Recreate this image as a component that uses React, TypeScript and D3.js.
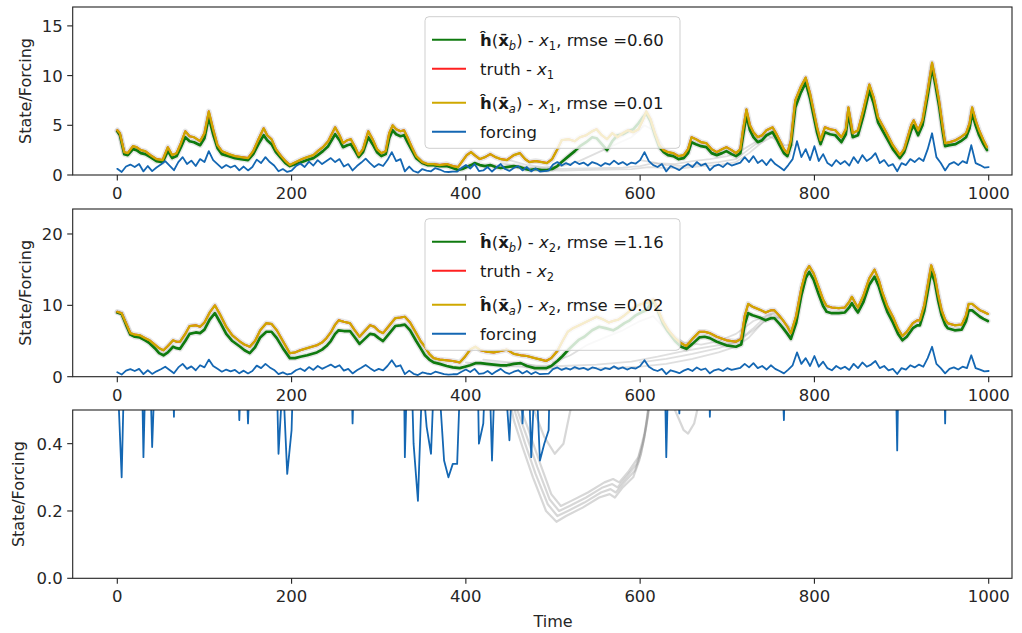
import React from 'react';
import * as d3 from 'd3';

type P = [number, number];

const X_TICKS = [0, 200, 400, 600, 800, 1000];
const Y_TICKS_1 = [0, 5, 10, 15];
const Y_TICKS_2 = [0, 10, 20];
const Y_TICKS_3 = [0.0, 0.2, 0.4];

const FORCING_STEP = 5;
const forcing = [
  0.62, 0.30, 0.85, 1.05, 0.80, 1.10, 0.36, 0.90, 0.39, 0.75,
  1.05, 1.40, 0.95, 0.48, 1.30, 1.80, 1.10, 1.45, 0.90, 1.60,
  1.30, 2.40, 1.50, 1.10, 0.70, 1.00, 0.75, 0.95, 0.47, 0.85,
  0.46, 0.80, 1.55, 1.20, 1.80, 1.30, 0.95, 0.37, 0.60, 0.31,
  0.44, 0.90, 1.15, 0.80, 1.35, 0.95, 1.50, 1.10, 1.40, 1.70,
  1.30, 1.60, 0.85, 1.10, 0.46, 0.90, 1.25, 1.65, 1.20, 0.80,
  1.10, 0.90, 1.50, 2.30, 1.40, 1.60, 0.36, 0.85, 0.40, 0.23,
  0.60, 0.45, 0.37, 0.70, 0.55, 0.35, 0.30, 0.34, 0.34, 0.70,
  1.00, 0.65, 1.10, 0.40, 0.46, 0.80, 0.35, 0.75, 1.10, 0.60,
  0.41, 0.70, 0.90, 0.46, 0.80, 0.36, 0.65, 0.35, 0.40, 0.44,
  1.05, 1.30, 0.95, 1.20, 1.00, 1.35, 1.10, 1.25, 0.95, 1.30,
  1.15, 0.90, 1.20, 1.05, 1.45, 1.10, 1.30, 1.00, 1.25, 1.15,
  1.50, 2.30, 1.40, 1.00, 0.80, 1.10, 0.36, 0.90, 0.70, 0.49,
  0.85, 1.10, 0.80, 1.30, 0.95, 1.15, 0.48, 0.90, 1.05, 0.80,
  1.20, 0.95, 1.10, 1.25, 1.80, 1.30, 1.90, 1.20, 1.50, 1.00,
  1.60, 1.10, 0.80, 0.47, 1.00, 1.60, 3.40, 1.80, 2.60, 1.50,
  2.90, 1.40, 2.10, 1.20, 0.90, 1.50, 1.10, 1.40, 0.95, 1.80,
  1.20, 2.00, 1.40, 1.70, 2.20, 1.20, 1.50, 0.90, 1.10, 0.38,
  1.20, 1.00, 1.60, 1.30, 1.70, 1.40, 2.60, 4.20, 1.80, 1.20,
  0.46, 1.10, 1.30, 1.00, 1.40, 1.20, 3.00, 1.20, 1.00, 0.75,
  0.80,
];

const backgroundX1: P[] = [
  [0,4.4],[3,4.0],[8,2.1],[12,2.0],[18,2.6],[22,2.5],[27,2.2],[32,2.1],[38,1.8],[45,1.4],[52,1.3],[58,2.4],[63,1.7],[68,1.9],[73,2.8],[78,3.8],[83,3.4],[88,3.3],[95,3.0],[100,3.7],[105,5.8],[110,4.1],[115,2.7],[120,2.1],[128,1.9],[135,1.7],[142,1.6],[150,1.5],[156,2.1],[162,3.1],[168,4.0],[172,3.5],[177,3.1],[182,2.3],[188,1.7],[193,1.2],[198,0.9],[205,1.1],[212,1.3],[218,1.5],[225,1.7],[230,2.0],[236,2.4],[242,2.9],[250,4.1],[255,3.5],[259,2.8],[264,3.0],[268,3.1],[273,2.4],[277,1.8],[282,2.3],[288,3.8],[293,3.1],[298,2.3],[303,1.9],[308,2.1],[312,3.7],[316,4.5],[320,4.1],[325,3.9],[329,4.0],[333,3.3],[338,2.5],[343,1.7],[350,1.2],[356,1.0],[363,1.0],[370,0.9],[378,0.9],[385,0.7],[391,0.5],[396,0.6],[401,0.8],[406,1.0],[410,1.2],[416,1.0],[422,0.9],[428,1.0],[434,0.8],[440,0.7],[447,0.8],[455,0.9],[462,0.8],[468,0.6],[473,0.5],[480,0.6],[487,0.5],[493,0.5],[499,0.6],[505,0.9],[510,1.3],[518,1.9],[525,2.4],[531,2.9],[538,3.3],[545,3.8],[550,3.7],[556,3.1],[562,2.5],[568,3.4],[574,4.0],[580,4.1],[586,4.4],[592,4.6],[598,5.2],[603,5.8],[607,6.2],[612,5.4],[617,4.0],[622,2.8],[627,2.3],[632,2.0],[638,1.9],[644,1.6],[650,1.7],[655,2.2],[659,3.3],[664,3.1],[670,2.9],[676,2.8],[682,2.2],[688,2.0],[694,2.2],[699,2.4],[705,2.1],[710,1.9],[715,2.2],[718,3.9],[722,6.0],[726,4.5],[730,3.8],[735,3.3],[740,3.5],[745,4.0],[752,4.3],[756,3.7],[760,3.0],[765,2.2],[769,1.9],[773,3.0],[778,6.8],[784,8.2],[790,9.3],[795,7.7],[799,6.0],[803,4.3],[807,3.1],[812,4.3],[818,4.1],[824,4.0],[831,3.3],[836,4.1],[839,6.2],[844,3.8],[850,4.0],[856,5.9],[863,8.5],[868,7.2],[873,5.3],[878,4.5],[883,3.7],[890,2.6],[898,1.7],[903,2.3],[906,3.1],[911,4.5],[914,5.0],[919,4.0],[924,5.0],[930,8.0],[935,10.8],[939,9.0],[943,7.0],[947,4.5],[950,2.9],[955,3.0],[962,3.1],[968,3.4],[974,3.8],[978,4.7],[981,6.2],[985,5.0],[989,4.0],[994,3.1],[998,2.5],
];

const analysisX1: P[] = [
  [0,4.5],[3,4.2],[8,2.3],[12,2.2],[18,2.9],[22,2.8],[27,2.5],[32,2.4],[38,2.0],[45,1.6],[52,1.5],[58,2.8],[63,2.0],[68,2.2],[73,3.2],[78,4.4],[83,3.9],[88,3.8],[95,3.4],[100,4.2],[105,6.4],[110,4.6],[115,3.0],[120,2.4],[128,2.1],[135,1.9],[142,1.8],[150,1.7],[156,2.4],[162,3.6],[168,4.7],[172,4.0],[177,3.6],[182,2.6],[188,1.9],[193,1.4],[198,1.0],[205,1.3],[212,1.6],[218,1.8],[225,2.0],[230,2.4],[236,2.8],[242,3.4],[250,4.8],[255,4.0],[259,3.2],[264,3.5],[268,3.6],[273,2.8],[277,2.0],[282,2.6],[288,4.4],[293,3.6],[298,2.6],[303,2.2],[308,2.4],[312,4.2],[316,5.0],[320,4.6],[325,4.4],[329,4.5],[333,3.8],[338,2.8],[343,1.9],[350,1.3],[356,1.1],[363,1.1],[370,1.0],[378,1.1],[385,0.9],[391,0.8],[396,1.4],[401,2.0],[406,2.3],[410,2.0],[416,1.6],[422,1.8],[428,2.1],[434,1.8],[440,1.6],[447,1.5],[455,2.0],[462,2.2],[468,1.6],[473,1.3],[480,1.4],[487,1.3],[493,1.2],[499,1.6],[505,2.6],[510,3.5],[518,3.6],[525,3.4],[531,3.8],[538,4.0],[545,4.4],[550,4.6],[556,4.0],[562,3.6],[568,4.2],[574,3.8],[580,4.2],[586,4.5],[592,4.3],[598,4.6],[603,5.5],[607,6.4],[612,5.6],[617,4.2],[622,3.0],[627,2.5],[632,2.3],[638,2.2],[644,1.9],[650,2.0],[655,2.6],[659,3.8],[664,3.6],[670,3.3],[676,3.2],[682,2.6],[688,2.3],[694,2.6],[699,2.8],[705,2.5],[710,2.2],[715,2.6],[718,4.5],[722,6.6],[726,5.0],[730,4.3],[735,3.8],[740,4.0],[745,4.5],[752,4.8],[756,4.2],[760,3.5],[765,2.6],[769,2.2],[773,3.5],[778,7.5],[784,8.8],[790,9.8],[795,8.2],[799,6.5],[803,4.8],[807,3.5],[812,4.8],[818,4.6],[824,4.5],[831,3.8],[836,4.6],[839,6.8],[844,4.2],[850,4.5],[856,6.5],[863,9.1],[868,7.8],[873,5.8],[878,5.0],[883,4.2],[890,3.0],[898,2.0],[903,2.6],[906,3.5],[911,5.0],[914,5.5],[919,4.5],[924,5.5],[930,8.5],[935,11.3],[939,9.5],[943,7.5],[947,5.0],[950,3.2],[955,3.3],[962,3.5],[968,3.8],[974,4.2],[978,5.2],[981,6.8],[985,5.5],[989,4.5],[994,3.5],[998,2.8],
];

// truth is indistinguishable from the analysis (rmse 0.01) and hidden beneath it
const truthX1: P[] = analysisX1;

const backgroundX2: P[] = [
  [0,9.0],[5,8.8],[10,7.3],[15,5.9],[20,5.6],[26,5.5],[32,5.1],[37,4.7],[43,4.0],[48,3.3],[53,3.0],[58,3.4],[64,4.2],[68,4.0],[72,3.9],[78,5.0],[83,6.0],[90,6.2],[95,6.1],[100,6.6],[106,8.0],[112,8.9],[118,7.6],[125,6.0],[132,5.0],[141,4.2],[146,3.7],[152,3.3],[158,4.1],[164,5.5],[171,6.3],[177,6.3],[183,5.4],[190,4.0],[198,2.6],[204,2.6],[210,2.8],[218,3.0],[229,3.4],[235,3.8],[240,4.3],[245,5.0],[250,6.0],[254,6.5],[260,6.4],[267,6.4],[272,5.6],[278,4.6],[284,5.3],[290,6.0],[295,5.9],[300,5.4],[305,5.0],[311,5.9],[319,7.1],[325,7.2],[330,7.3],[336,6.5],[343,5.0],[348,4.0],[353,3.0],[358,2.4],[363,2.0],[370,1.8],[378,1.5],[385,1.3],[393,1.2],[399,1.4],[405,1.6],[411,1.9],[417,1.9],[424,1.8],[432,1.7],[440,1.6],[447,1.6],[455,1.8],[463,1.9],[470,1.5],[479,1.2],[486,1.2],[492,1.2],[498,1.5],[505,2.2],[511,2.9],[517,3.7],[523,4.4],[530,5.2],[536,5.6],[545,6.5],[553,7.0],[560,6.8],[569,6.5],[575,6.9],[582,7.5],[588,7.9],[595,8.6],[601,9.0],[607,9.3],[612,10.2],[616,10.5],[620,9.3],[626,7.5],[632,6.3],[640,5.0],[647,4.2],[653,3.9],[660,4.6],[668,5.5],[674,5.6],[680,5.4],[688,4.9],[699,4.4],[710,4.2],[716,4.5],[720,7.3],[724,8.9],[729,8.6],[737,8.3],[744,7.9],[750,8.2],[754,8.2],[760,7.4],[764,6.8],[769,6.0],[773,5.3],[779,7.5],[785,11.4],[790,13.8],[794,14.7],[799,13.6],[805,11.5],[810,9.9],[814,9.1],[820,8.9],[828,8.9],[835,9.0],[840,9.7],[843,10.3],[847,9.5],[850,9.0],[856,10.4],[863,12.9],[869,14.0],[874,12.6],[878,11.0],[884,9.0],[890,7.6],[896,6.0],[901,5.1],[906,5.6],[913,6.8],[918,7.2],[921,7.2],[926,9.2],[931,12.6],[934,14.7],[938,13.3],[942,10.7],[946,8.6],[950,7.3],[953,6.8],[961,6.5],[969,6.6],[974,7.8],[977,9.3],[981,9.3],[985,8.9],[990,8.4],[994,8.1],[999,7.8],
];

const analysisX2: P[] = [
  [0,9.1],[5,8.9],[10,7.5],[15,6.1],[20,5.9],[26,5.8],[32,5.4],[37,5.1],[43,4.5],[48,4.0],[53,3.7],[58,4.3],[64,5.1],[68,4.9],[72,4.9],[78,6.0],[83,7.1],[90,7.2],[95,7.0],[100,7.6],[106,9.0],[112,10.0],[118,8.7],[125,7.0],[132,5.8],[141,4.9],[146,4.5],[152,4.2],[158,5.0],[164,6.5],[171,7.5],[177,7.4],[183,6.5],[190,5.0],[198,3.3],[204,3.4],[210,3.7],[218,4.0],[229,4.4],[235,4.8],[240,5.4],[245,6.2],[250,7.3],[254,7.9],[260,7.7],[267,7.5],[272,6.6],[278,5.6],[284,6.4],[290,7.2],[295,7.0],[300,6.4],[305,6.1],[311,7.0],[319,8.2],[325,8.3],[330,8.4],[336,7.6],[343,6.1],[348,5.0],[353,4.2],[358,3.2],[363,2.6],[370,2.4],[378,2.3],[385,2.2],[393,2.0],[399,2.8],[405,3.8],[411,4.2],[417,3.7],[424,3.5],[432,3.4],[440,3.6],[447,3.8],[455,3.2],[463,3.0],[470,2.9],[479,2.6],[486,2.4],[492,2.2],[498,2.6],[505,3.6],[511,5.0],[517,6.3],[523,6.8],[530,7.2],[540,7.8],[550,8.4],[558,8.0],[564,7.6],[569,7.8],[575,8.0],[582,8.6],[589,9.3],[597,10.0],[604,10.3],[610,10.4],[615,10.8],[620,9.5],[626,7.8],[632,6.6],[640,5.4],[647,4.7],[653,4.3],[660,5.3],[668,6.3],[674,6.3],[680,6.1],[688,5.6],[699,5.1],[710,4.9],[716,5.3],[720,8.5],[724,10.2],[729,9.8],[737,9.4],[744,9.0],[750,9.3],[754,9.3],[760,8.5],[764,7.9],[769,7.0],[773,6.1],[779,8.5],[785,12.4],[790,14.7],[794,15.5],[799,14.5],[805,12.5],[810,10.8],[814,9.9],[820,9.7],[828,9.6],[835,9.7],[840,10.5],[843,11.2],[847,10.3],[850,9.7],[856,11.3],[863,13.8],[869,15.0],[874,13.5],[878,11.8],[884,9.8],[890,8.4],[896,6.7],[901,5.7],[906,6.3],[913,7.5],[918,7.9],[921,7.9],[926,10.0],[931,13.5],[934,15.6],[938,14.2],[942,11.5],[946,9.3],[950,8.0],[953,7.5],[961,7.2],[969,7.3],[974,8.6],[977,10.2],[981,10.2],[985,9.8],[990,9.3],[994,9.1],[999,8.8],
];

const truthX2: P[] = analysisX2;

// ensemble members that visibly depart from the analysis
const ensembleX1: P[][] = [
  [[430,1.0],[450,0.8],[470,0.6],[490,0.5],[510,0.45],[530,0.5],[560,0.55],[590,0.6],[610,0.8],[630,0.7],[650,0.7],[670,0.9],[690,1.0],[710,1.3],[725,2.2],[740,3.3],[755,4.0],[765,3.0],[775,3.0]],
  [[440,1.2],[460,0.9],[480,0.7],[500,0.6],[520,0.65],[550,0.7],[580,0.75],[600,0.9],[615,1.2],[630,1.0],[650,0.9],[670,1.1],[690,1.3],[710,1.6],[725,2.6],[740,3.6],[752,4.5],[760,3.6]],
  [[450,1.5],[470,1.0],[490,0.8],[510,0.9],[530,1.4],[550,2.2],[570,3.0],[590,3.8],[605,5.0],[615,4.5],[630,2.4],[650,1.8]],
  [[600,1.5],[620,1.2],[640,1.1],[660,1.4],[680,1.6],[700,1.9],[715,2.4],[730,3.2],[745,4.0],[760,3.4]],
];

const ensembleX2: P[][] = [
  [[400,2.0],[430,1.6],[460,1.4],[490,1.2],[520,1.1],[560,1.2],[600,1.4],[630,1.8],[660,2.5],[690,3.4],[710,4.2],[725,5.5],[740,7.5],[752,8.8],[760,8.2]],
  [[420,2.4],[450,2.0],[480,1.6],[510,1.5],[550,1.7],[590,2.1],[620,2.8],[650,3.6],[680,4.2],[700,4.6],[718,5.6],[730,6.8],[745,8.5],[755,9.0]],
  [[500,2.0],[520,3.0],[540,4.5],[560,5.5],[580,6.5],[600,7.8],[615,8.5],[630,6.5],[650,4.8],[670,4.5],[690,5.0],[710,6.0],[730,7.8],[750,8.8]],
  [[600,2.0],[630,2.5],[660,3.2],[690,4.0],[710,4.8],[730,6.5],[745,8.0],[760,8.3],[775,6.5]],
];

const ensembleX3: P[][] = [
  [[430,0.9],[445,0.6],[455,0.47],[465,0.39],[477,0.30],[492,0.20],[504,0.168],[515,0.185],[534,0.21],[553,0.24],[565,0.25],[571,0.24],[580,0.27],[592,0.30],[599,0.35],[605,0.42],[610,0.52],[620,0.9]],
  [[430,0.95],[447,0.6],[457,0.49],[468,0.40],[480,0.31],[494,0.22],[505,0.185],[517,0.2],[536,0.225],[555,0.255],[566,0.265],[572,0.255],[582,0.285],[594,0.32],[601,0.37],[607,0.45],[612,0.56],[622,0.95]],
  [[432,1.0],[449,0.62],[459,0.5],[470,0.42],[482,0.33],[496,0.235],[507,0.2],[519,0.215],[538,0.24],[557,0.27],[568,0.28],[574,0.27],[584,0.3],[596,0.34],[603,0.4],[609,0.48],[614,0.6],[624,1.0]],
  [[435,1.0],[451,0.65],[461,0.52],[472,0.44],[484,0.35],[498,0.25],[509,0.215],[521,0.23],[540,0.255],[559,0.285],[569,0.295],[576,0.285],[586,0.315],[598,0.36],[605,0.43],[611,0.52],[616,0.65],[626,1.0]],
  [[465,0.7],[478,0.5],[490,0.42],[502,0.37],[512,0.40],[520,0.5],[530,0.7]],
  [[630,0.7],[640,0.5],[650,0.44],[655,0.43],[662,0.46],[670,0.55],[680,0.7]],
];

const RMSE_B = ['0.60', '1.16'];
const RMSE_A = ['0.01', '0.02'];
const STATE_IDX = ['1', '2'];

const C_GREEN = '#0f7a0f';
const C_RED = '#ff2020';
const C_GOLD = '#cfa800';
const C_BLUE = '#1467b3';
const FONT = 'DejaVu Sans, Verdana, sans-serif';
const FS = 16.5;

const X_LEFT = 72.7;
const X_RIGHT = 1012;
const xScale = d3.scaleLinear().domain([0, 1000]).range([117.3, 988.7]);

const panels = [
  { top: 7, bottom: 175, yMax: 16.9, ticks: Y_TICKS_1, fmt: d3.format('d'), labelX: 25 },
  { top: 209, bottom: 376.7, yMax: 23.5, ticks: Y_TICKS_2, fmt: d3.format('d'), labelX: 25 },
  { top: 410, bottom: 578.3, yMax: 0.5, ticks: Y_TICKS_3, fmt: d3.format('.1f'), labelX: 18 },
];

const forcingPts: P[] = forcing.map((v, i) => [i * FORCING_STEP, v]);

function Legend({ top, k }: { top: number; k: number }) {
  const x0 = 425;
  const w = 255;
  const h = 131.6;
  const rows = [top + 23, top + 52, top + 86, top + 115];
  const hx1 = 432, hx2 = 466, tx = 480;
  const sub = 11.5;
  const base = (r: number) => r + 6;
  return (
    <g fontFamily={FONT} fontSize={FS} fill="#1a1a1a">
      <rect x={x0} y={top} width={w} height={h} rx={4} fill="#fff" fillOpacity={0.8} stroke="#cfcfcf" strokeWidth={1} />
      <line x1={hx1} x2={hx2} y1={rows[0]} y2={rows[0]} stroke={C_GREEN} strokeWidth={2} />
      <text x={tx} y={base(rows[0])}>
        <tspan fontWeight="bold">ĥ</tspan>
        <tspan>(</tspan>
        <tspan fontWeight="bold">x̄</tspan>
        <tspan fontSize={sub} fontStyle="italic" dy={4}>b</tspan>
        <tspan dy={-4}>) - </tspan>
        <tspan fontStyle="italic">x</tspan>
        <tspan fontSize={sub} dy={4}>{STATE_IDX[k]}</tspan>
        <tspan dy={-4}>{`, rmse =${RMSE_B[k]}`}</tspan>
      </text>
      <line x1={hx1} x2={hx2} y1={rows[1]} y2={rows[1]} stroke={C_RED} strokeWidth={2} />
      <text x={tx} y={base(rows[1])}>
        <tspan>truth - </tspan>
        <tspan fontStyle="italic">x</tspan>
        <tspan fontSize={sub} dy={4}>{STATE_IDX[k]}</tspan>
      </text>
      <line x1={hx1} x2={hx2} y1={rows[2]} y2={rows[2]} stroke={C_GOLD} strokeWidth={2} />
      <text x={tx} y={base(rows[2])}>
        <tspan fontWeight="bold">ĥ</tspan>
        <tspan>(</tspan>
        <tspan fontWeight="bold">x̄</tspan>
        <tspan fontSize={sub} fontStyle="italic" dy={4}>a</tspan>
        <tspan dy={-4}>) - </tspan>
        <tspan fontStyle="italic">x</tspan>
        <tspan fontSize={sub} dy={4}>{STATE_IDX[k]}</tspan>
        <tspan dy={-4}>{`, rmse =${RMSE_A[k]}`}</tspan>
      </text>
      <line x1={hx1} x2={hx2} y1={rows[3]} y2={rows[3]} stroke={C_BLUE} strokeWidth={2} />
      <text x={tx} y={base(rows[3])}>forcing</text>
    </g>
  );
}

export default function App() {
  const W = 1022, H = 633;
  const panelSeries = [
    { ens: ensembleX1, bg: backgroundX1, truth: truthX1, an: analysisX1 },
    { ens: ensembleX2, bg: backgroundX2, truth: truthX2, an: analysisX2 },
    { ens: ensembleX3, bg: null, truth: null, an: null },
  ];
  return (
    <svg width={W} height={H} style={{ position: 'absolute', left: 0, top: 0, background: '#fff' }} fontFamily={FONT}>
      <defs>
        {panels.map((p, i) => (
          <clipPath id={`clip${i}`} key={i}>
            <rect x={X_LEFT} y={p.top} width={X_RIGHT - X_LEFT} height={p.bottom - p.top} />
          </clipPath>
        ))}
      </defs>
      {panels.map((p, i) => {
        const y = d3.scaleLinear().domain([0, p.yMax]).range([p.bottom, p.top]);
        const line = d3.line<P>().x(d => xScale(d[0])).y(d => y(d[1]));
        const s = panelSeries[i];
        return (
          <g key={i}>
            <g clipPath={`url(#clip${i})`} fill="none" strokeLinejoin="round" strokeLinecap="round">
              {s.bg && <path d={line(s.bg) || ''} stroke="#9a9a9a" strokeOpacity={0.25} strokeWidth={5.5} />}
              {s.an && <path d={line(s.an) || ''} stroke="#9a9a9a" strokeOpacity={0.25} strokeWidth={5.5} />}
              {s.ens.map((m, j) => (
                <path key={j} d={line(m) || ''} stroke="#8c8c8c" strokeOpacity={i === 2 ? 0.35 : 0.28} strokeWidth={i === 2 ? 2.2 : 1.8} />
              ))}
              {s.bg && <path d={line(s.bg) || ''} stroke={C_GREEN} strokeWidth={2.7} />}
              {s.truth && <path d={line(s.truth) || ''} stroke={C_RED} strokeWidth={2} />}
              {s.an && <path d={line(s.an) || ''} stroke={C_GOLD} strokeWidth={2.2} />}
              <path d={line(forcingPts) || ''} stroke={C_BLUE} strokeWidth={1.8} />
            </g>
            {i < 2 && <Legend top={p.top + 9.7} k={i} />}
            <rect x={X_LEFT} y={p.top} width={X_RIGHT - X_LEFT} height={p.bottom - p.top} fill="none" stroke="#222" strokeWidth={1.1} />
            {p.ticks.map(t => (
              <g key={t}>
                <line x1={X_LEFT - 5.5} x2={X_LEFT} y1={y(t)} y2={y(t)} stroke="#222" strokeWidth={1.1} />
                <text x={X_LEFT - 10} y={y(t) + 6} textAnchor="end" fontSize={FS} fill="#262626">{p.fmt(t)}</text>
              </g>
            ))}
            {X_TICKS.map(t => (
              <g key={t}>
                <line x1={xScale(t)} x2={xScale(t)} y1={p.bottom} y2={p.bottom + 5.5} stroke="#222" strokeWidth={1.1} />
                <text x={xScale(t)} y={p.bottom + 24} textAnchor="middle" fontSize={FS} fill="#262626">{t}</text>
              </g>
            ))}
            <text transform={`translate(${p.labelX},${(p.top + p.bottom) / 2}) rotate(-90)`} textAnchor="middle" dy={6} fontSize={FS - 0.5} fill="#262626">State/Forcing</text>
          </g>
        );
      })}
      <text x={553} y={627} textAnchor="middle" fontSize={FS - 0.5} fill="#262626">Time</text>
    </svg>
  );
}
